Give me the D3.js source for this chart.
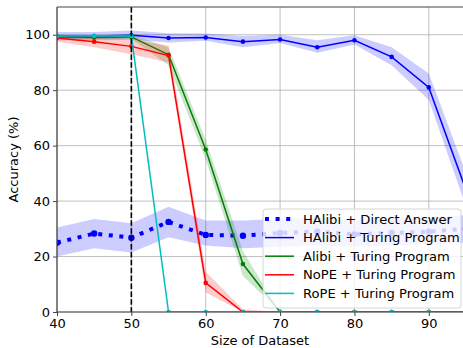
<!DOCTYPE html>
<html><head><meta charset="utf-8">
<script src="https://cdn.jsdelivr.net/npm/d3@7"></script>
<style>body{margin:0;background:#fff}svg{display:block;font-family:"DejaVu Sans",sans-serif}</style>
</head><body><div id="chart"></div>
<script>
const sizes = [40,45,50,55,60,65,70,75,80,85,90,95];
const xTicks = [40,50,60,70,80,90];
const yTicks = [0,20,40,60,80,100];

const directMean = [25,28.3,26.8,32.5,27.8,27.5,28.5,29,28,28.5,29,30];
const directLo   = [20,23,21.5,27,24,23,23.5,24,23.5,24,24.5,25];
const directHi   = [30.5,33.5,32,38,33,33,33.5,34,33,33.5,34,35];

const halibiMean = [99.5,99.5,99.8,98.8,99,97.5,98.3,95.5,98,92,81,44];
const halibiLo   = [98,98,98.2,97.2,97.8,95.5,97,93.5,96.5,89,76.5,38];
const halibiHi   = [101,101,101.5,100.5,100.4,99.5,100,98,99.8,95.5,86,50];

const alibiMean = [99.2,99,99.2,92.8,58.6,17.3,0,0,0,0,0,0];
const alibiLo   = [98.5,98.5,98.5,89,55,13,0,0,0,0,0,0];
const alibiHi   = [100,99.8,100,95.5,62,22,0,0,0,0,0,0];

const nopeMean = [98.8,97.5,95.8,92.5,10.5,0,0,0,0,0,0,0];
const nopeLo   = [97.5,95.5,93,90,7,0,0,0,0,0,0,0];
const nopeHi   = [100,99.5,98.5,96,14.5,1,0,0,0,0,0,0];

const ropeMean = [99.5,99.6,99.5,0,0,0,0,0,0,0,0,0];
const ropeLo   = [99,99,99,0,0,0,0,0,0,0,0,0];
const ropeHi   = [100,100,100,0,0,0,0,0,0,0,0,0];

const seriesNames = ["HAlibi + Direct Answer","HAlibi + Turing Program","Alibi + Turing Program","NoPE + Turing Program","RoPE + Turing Program"];
const colors = ["#0000ff","#0000ff","#008000","#ff0000","#00bfbf"];

const W = 463, H = 348;
const m = {l:57, t:7, r:466, b:312};
const svg = d3.select("#chart").append("svg").attr("width",W).attr("height",H);
const x = d3.scaleLinear().domain([40,95]).range([m.l,m.r]);
const y = d3.scaleLinear().domain([0,110]).range([m.b,m.t]);

svg.append("defs").append("clipPath").attr("id","clip").append("rect")
  .attr("x",m.l).attr("y",m.t).attr("width",m.r-m.l).attr("height",m.b-m.t);

// grid
const grid = svg.append("g");
xTicks.forEach(t=>grid.append("line").attr("x1",x(t)).attr("x2",x(t)).attr("y1",m.t).attr("y2",m.b).attr("stroke","#b0b0b0").attr("stroke-width",0.8));
yTicks.forEach(t=>grid.append("line").attr("x1",m.l).attr("x2",m.r).attr("y1",y(t)).attr("y2",y(t)).attr("stroke","#b0b0b0").attr("stroke-width",0.8));

const plot = svg.append("g").attr("clip-path","url(#clip)");
const area = d3.area().x((d,i)=>x(sizes[i])).y0(d=>y(d[0])).y1(d=>y(d[1]));
const line = d3.line().x((d,i)=>x(sizes[i])).y(d=>y(d));

const data = [
  {mean:directMean, lo:directLo, hi:directHi},
  {mean:halibiMean, lo:halibiLo, hi:halibiHi},
  {mean:alibiMean, lo:alibiLo, hi:alibiHi},
  {mean:nopeMean, lo:nopeLo, hi:nopeHi},
  {mean:ropeMean, lo:ropeLo, hi:ropeHi}
];

data.forEach((s,k)=>{
  const band = s.lo.map((v,i)=>[v,s.hi[i]]);
  plot.append("path").datum(band).attr("d",area).attr("fill",colors[k]).attr("fill-opacity",0.2);
  const p = plot.append("path").datum(s.mean).attr("d",line).attr("fill","none").attr("stroke",colors[k]);
  if(k===0){ p.attr("stroke-width",4).attr("stroke-dasharray","4,6.6"); }
  else { p.attr("stroke-width",1.5); }
  plot.selectAll(null).data(s.mean).enter().append("circle")
    .attr("cx",(d,i)=>x(sizes[i])).attr("cy",d=>y(d)).attr("r",k===0?3.2:2.3).attr("fill",colors[k]);
});

// vertical dashed line
plot.append("line").attr("x1",x(50)).attr("x2",x(50)).attr("y1",m.t).attr("y2",m.b)
  .attr("stroke","#000").attr("stroke-width",1.6).attr("stroke-dasharray","5.5,2.4");

// spines
svg.append("line").attr("x1",m.l).attr("x2",m.l).attr("y1",m.t).attr("y2",m.b).attr("stroke","#444").attr("stroke-width",1.2);
svg.append("line").attr("x1",m.l).attr("x2",m.r).attr("y1",m.t).attr("y2",m.t).attr("stroke","#444").attr("stroke-width",1.2);
svg.append("line").attr("x1",m.l).attr("x2",m.r).attr("y1",m.b).attr("y2",m.b).attr("stroke","#444").attr("stroke-width",1.2);

// axes
const xa = svg.append("g").attr("transform",`translate(0,${m.b})`)
  .call(d3.axisBottom(x).tickValues(xTicks).tickSize(4).tickPadding(3).tickFormat(d3.format("d")));
const ya = svg.append("g").attr("transform",`translate(${m.l},0)`)
  .call(d3.axisLeft(y).tickValues(yTicks).tickSize(4).tickPadding(3).tickFormat(d3.format("d")));
[xa,ya].forEach(a=>{a.select(".domain").remove();a.selectAll("text").attr("font-size",13).attr("fill","#000").attr("font-family","DejaVu Sans");a.selectAll("line").attr("stroke","#444");});

svg.append("text").attr("x",(m.l+W)/2).attr("y",345).attr("text-anchor","middle").attr("font-size",13).text("Size of Dataset");
svg.append("text").attr("transform",`translate(18,${(m.t+m.b)/2}) rotate(-90)`).attr("text-anchor","middle").attr("font-size",13).text("Accuracy (%)");

// legend
const lg = svg.append("g");
lg.append("rect").attr("x",263).attr("y",209).attr("width",198).attr("height",99).attr("rx",3)
  .attr("fill","#fff").attr("fill-opacity",0.8).attr("stroke","#cccccc").attr("stroke-width",0.8);
seriesNames.forEach((n,k)=>{
  const yy = 219 + k*18.6;
  const l = lg.append("line").attr("x1",265).attr("x2",294).attr("y1",yy).attr("y2",yy).attr("stroke",colors[k]);
  if(k===0) l.attr("stroke-width",4).attr("stroke-dasharray","4,6.6"); else l.attr("stroke-width",1.5);
  lg.append("text").attr("x",303).attr("y",yy+4.6).attr("font-size",13.1).text(n);
});
</script></body></html>
